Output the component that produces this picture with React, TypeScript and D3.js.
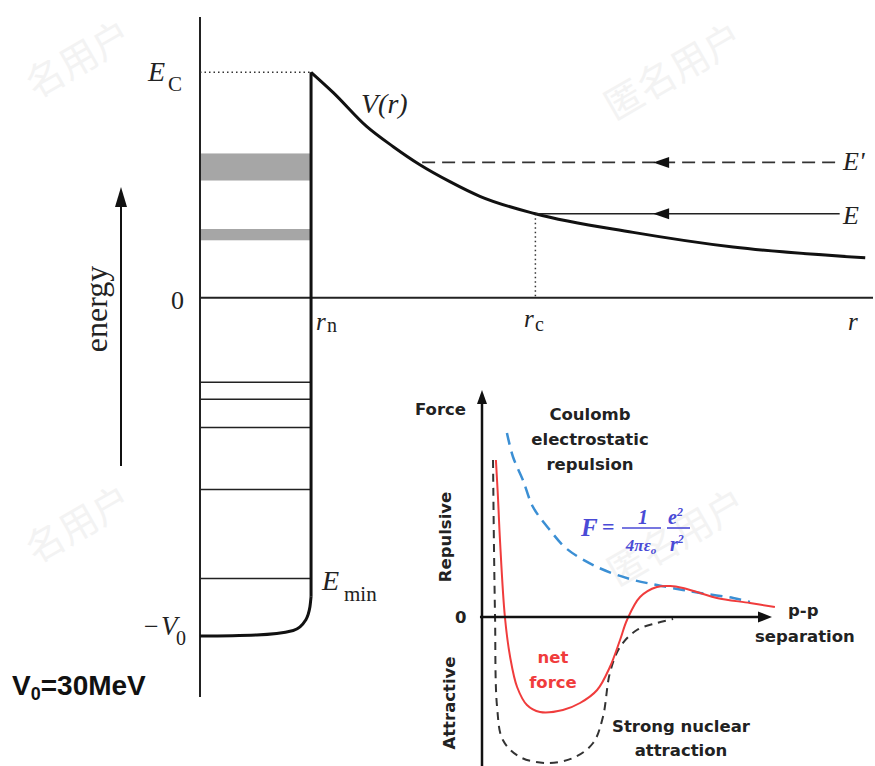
import * as d3 from 'd3'

// ---- nuclear potential well (energies in MeV, r in units of r_n) ----
const EC = 20
const V0 = 30
const boundLevels = [-7.5, -9.0, -11.5, -17.0, -24.9]
const bandLevels: [number, number][] = [[10.4, 12.8], [5.1, 6.1]]
const wellR = [0, 0.51, 0.84, 0.95, 0.99, 1.0]
const wellV = [-30, -29.9, -29.5, -28.6, -27.4, -26.5]
const coulombR = [1.0, 1.2, 1.5, 1.74, 1.98, 2.25, 2.52, 3.02, 3.9, 4.8, 5.99]
const coulombV = [20, 18.2, 15.2, 13.4, 11.8, 10.3, 9.0, 7.45, 5.8, 4.5, 3.55]
const energyE = 7.45
const energyEp = 12.0
const rc = 3.02
const rEpStart = 2.0
const rLineEnd = 5.76
const rArrow = 4.08

// ---- inset: force between two protons (arbitrary units) ----
const coulombS = [0.86, 1.07, 1.41, 1.76, 2.34, 2.93, 3.97, 5.1, 6.03, 6.93, 7.52, 8.66, 9.24]
const coulombF = [9.2, 8.0, 6.85, 5.5, 4.35, 3.4, 2.5, 1.9, 1.6, 1.35, 1.2, 0.95, 0.75]
const netS = [0.48, 0.55, 0.62, 0.79, 0.97, 1.21, 1.55, 2.0, 2.79, 3.38, 3.97, 4.41, 4.76, 5.0, 5.45, 6.03, 6.5, 6.93, 7.52, 8.1, 9.24, 10.1]
const netF = [7.85, 6.0, 3.85, 0, -2.0, -3.5, -4.4, -4.75, -4.65, -4.3, -3.65, -2.5, -1.15, -0.15, 1.0, 1.5, 1.55, 1.45, 1.2, 0.95, 0.7, 0.5]
const strongS = [0.38, 0.41, 0.45, 0.52, 0.72, 1.31, 2.24, 3.14, 3.83, 4.17, 4.41, 4.76, 5.34, 6.03, 6.59]
const strongF = [7.85, 3.85, 0, -4.5, -6.15, -7.0, -7.3, -7.05, -6.3, -5.0, -2.8, -1.5, -0.65, -0.3, -0.1]

const watermarks = [
  { x: 675, y: 74, t: '匿名用户' },
  { x: 80, y: 62, t: '名用户' },
  { x: 80, y: 527, t: '名用户' },
  { x: 678, y: 540, t: '匿名用户' },
]

const serif = '"Liberation Serif", "Times New Roman", serif'
const comic = '"Comic Sans MS", "DejaVu Sans", sans-serif'

const zip = (a: number[], b: number[]) => a.map((v, i) => [v, b[i]] as [number, number])

const Arrow = ({ x, y, dir, len = 16, half = 5.5, fill = '#111' }: { x: number; y: number; dir: 'up' | 'left' | 'right'; len?: number; half?: number; fill?: string }) => {
  let pts: number[][]
  if (dir === 'up') pts = [[x, y], [x - half, y + len], [x + half, y + len]]
  else if (dir === 'left') pts = [[x, y], [x + len, y - half], [x + len, y + half]]
  else pts = [[x, y], [x - len, y - half], [x - len, y + half]]
  return <polygon points={pts.map(p => p.join(',')).join(' ')} fill={fill} />
}

export default function App() {
  const xE = d3.scaleLinear().domain([0, 6.06]).range([200, 873])
  const yE = d3.scaleLinear().domain([-35.4, 24.9]).range([697, 17])

  const xF = d3.scaleLinear().domain([0, 10]).range([482, 772])
  const yF = d3.scaleLinear().domain([-7.45, 11.35]).range([766, 390])

  const lineE = d3.line<[number, number]>().x(d => xE(d[0])).y(d => yE(d[1])).curve(d3.curveMonotoneX)
  const lineF = d3.line<[number, number]>().x(d => xF(d[0])).y(d => yF(d[1])).curve(d3.curveCatmullRom.alpha(0.5))

  const wallX = xE(1)
  const levelX0 = xE(0)
  const levelX1 = xE(1) - 1

  return (
    <svg width={875} height={766} style={{ position: 'absolute', left: 0, top: 0, background: '#fff' }}>
      {/* watermark */}
      {watermarks.map((w, i) => (
        <text key={i} transform={`translate(${w.x},${w.y}) rotate(-30)`} textAnchor="middle" dominantBaseline="middle"
          fontFamily='"Noto Sans CJK SC", sans-serif' fontSize={38} fill="#f3f3f3">{w.t}</text>
      ))}

      {/* ---------- potential diagram ---------- */}
      {bandLevels.map((b, i) => (
        <rect key={i} x={levelX0} y={yE(b[1])} width={levelX1 - levelX0} height={yE(b[0]) - yE(b[1])} fill="#a6a6a6" />
      ))}
      {boundLevels.map((e, i) => (
        <line key={i} x1={levelX0} x2={levelX1} y1={yE(e)} y2={yE(e)} stroke="#222" strokeWidth={1.5} />
      ))}

      <line x1={xE(0)} x2={xE(0)} y1={yE(24.9)} y2={yE(-35.4)} stroke="#222" strokeWidth={2} />
      <line x1={xE(0)} x2={xE(6.06)} y1={yE(0)} y2={yE(0)} stroke="#222" strokeWidth={2} />

      <line x1={xE(0)} x2={wallX} y1={yE(EC)} y2={yE(EC)} stroke="#333" strokeWidth={1.5} strokeDasharray="1.5,3" />
      <line x1={xE(rc)} x2={xE(rc)} y1={yE(energyE)} y2={yE(0)} stroke="#333" strokeWidth={1.5} strokeDasharray="1.5,3" />

      <path d={lineE(zip(wellR, wellV)) ?? ''} fill="none" stroke="#111" strokeWidth={3} />
      <line x1={wallX} x2={wallX} y1={yE(-26.5)} y2={yE(EC)} stroke="#111" strokeWidth={3} />
      <path d={lineE(zip(coulombR, coulombV)) ?? ''} fill="none" stroke="#111" strokeWidth={3} />

      <line x1={xE(rEpStart)} x2={xE(rLineEnd)} y1={yE(energyEp)} y2={yE(energyEp)} stroke="#333" strokeWidth={1.8} strokeDasharray="13,7" />
      <Arrow x={xE(rArrow)} y={yE(energyEp)} dir="left" />
      <line x1={xE(rc)} x2={xE(rLineEnd)} y1={yE(energyE)} y2={yE(energyE)} stroke="#222" strokeWidth={1.5} />
      <Arrow x={xE(rArrow)} y={yE(energyE)} dir="left" />

      {/* energy arrow */}
      <line x1={121} x2={121} y1={466} y2={200} stroke="#111" strokeWidth={2} />
      <Arrow x={121} y={187} dir="up" len={20} half={6} />
      <text transform="translate(107,309) rotate(-90)" textAnchor="middle" fontFamily={serif} fontSize={32} fill="#222">energy</text>

      {/* labels */}
      <g fontFamily={serif} fill="#222">
        <text x={148} y={81} fontSize={28} fontStyle="italic">E</text>
        <text x={168} y={91} fontSize={21}>C</text>
        <text x={171} y={309} fontSize={26}>0</text>
        <text x={316} y={330} fontSize={25} fontStyle="italic">r</text>
        <text x={327} y={332} fontSize={20}>n</text>
        <text x={361} y={113} fontSize={28} fontStyle="italic">V(r)</text>
        <text x={524} y={327} fontSize={25} fontStyle="italic">r</text>
        <text x={535} y={331} fontSize={20}>c</text>
        <text x={848} y={330} fontSize={25} fontStyle="italic">r</text>
        <text x={843} y={170} fontSize={26} fontStyle="italic">E'</text>
        <text x={843} y={224} fontSize={26} fontStyle="italic">E</text>
        <text x={322} y={590} fontSize={28} fontStyle="italic">E</text>
        <text x={344} y={601} fontSize={21}>min</text>
        <text x={144} y={635} fontSize={26}>−</text>
        <text x={161} y={635} fontSize={27} fontStyle="italic">V</text>
        <text x={176} y={645} fontSize={20}>0</text>
      </g>
      <text x={12} y={695} fontFamily='"Liberation Sans", Arial, sans-serif' fontWeight="bold" fontSize={28} fill="#111">
        V<tspan fontSize={18} dy={5}>0</tspan><tspan dy={-5}>=30MeV</tspan>
      </text>

      {/* ---------- inset: force ---------- */}
      <path d={lineF(zip(strongS, strongF)) ?? ''} fill="none" stroke="#333" strokeWidth={2} strokeDasharray="8,6" />
      <path d={lineF(zip(coulombS, coulombF)) ?? ''} fill="none" stroke="#3b8fd4" strokeWidth={2.5} strokeDasharray="12,7" />
      <path d={lineF(zip(netS, netF)) ?? ''} fill="none" stroke="#f03c3c" strokeWidth={2} />

      <line x1={xF(0)} x2={xF(0)} y1={yF(-7.45)} y2={yF(11.0)} stroke="#111" strokeWidth={2.5} />
      <Arrow x={xF(0)} y={yF(11.35)} dir="up" len={14} half={5} />
      <line x1={xF(-0.07)} x2={xF(9.6)} y1={yF(0)} y2={yF(0)} stroke="#111" strokeWidth={2.5} />
      <Arrow x={xF(10)} y={yF(0)} dir="right" len={14} half={5.5} />

      <g fontFamily={comic} fontWeight="bold" fontSize={16.5} fill="#222">
        <text x={415} y={415}>Force</text>
        <text x={455} y={623}>0</text>
        <text x={590} y={420} textAnchor="middle">Coulomb</text>
        <text x={590} y={445} textAnchor="middle">electrostatic</text>
        <text x={590} y={470} textAnchor="middle">repulsion</text>
        <text transform="translate(451,537) rotate(-90)" textAnchor="middle">Repulsive</text>
        <text transform="translate(455,703) rotate(-90)" textAnchor="middle">Attractive</text>
        <text x={788} y={616}>p-p</text>
        <text x={755} y={642}>separation</text>
        <text x={681} y={732} textAnchor="middle">Strong nuclear</text>
        <text x={681} y={756} textAnchor="middle">attraction</text>
        <text x={553} y={663} textAnchor="middle" fill="#f03c3c">net</text>
        <text x={553} y={688} textAnchor="middle" fill="#f03c3c">force</text>
      </g>

      {/* Coulomb law */}
      <g fontFamily={serif} fontStyle="italic" fontWeight="bold" fill="#4a4ad6">
        <text x={581} y={536} fontSize={25}>F</text>
        <text x={602} y={534} fontSize={22} fontStyle="normal">=</text>
        <text x={643} y={524} fontSize={20} textAnchor="middle">1</text>
        <line x1={622} x2={661} y1={528} y2={528} stroke="#4a4ad6" strokeWidth={1.6} />
        <text x={641} y={551} fontSize={17} textAnchor="middle">4πε<tspan fontSize={11} dy={3}>o</tspan></text>
        <text x={668} y={524} fontSize={20}>e<tspan fontSize={12} dy={-8}>2</tspan></text>
        <line x1={667} x2={690} y1={528} y2={528} stroke="#4a4ad6" strokeWidth={1.6} />
        <text x={670} y={551} fontSize={20}>r<tspan fontSize={12} dy={-8}>2</tspan></text>
      </g>
    </svg>
  )
}
